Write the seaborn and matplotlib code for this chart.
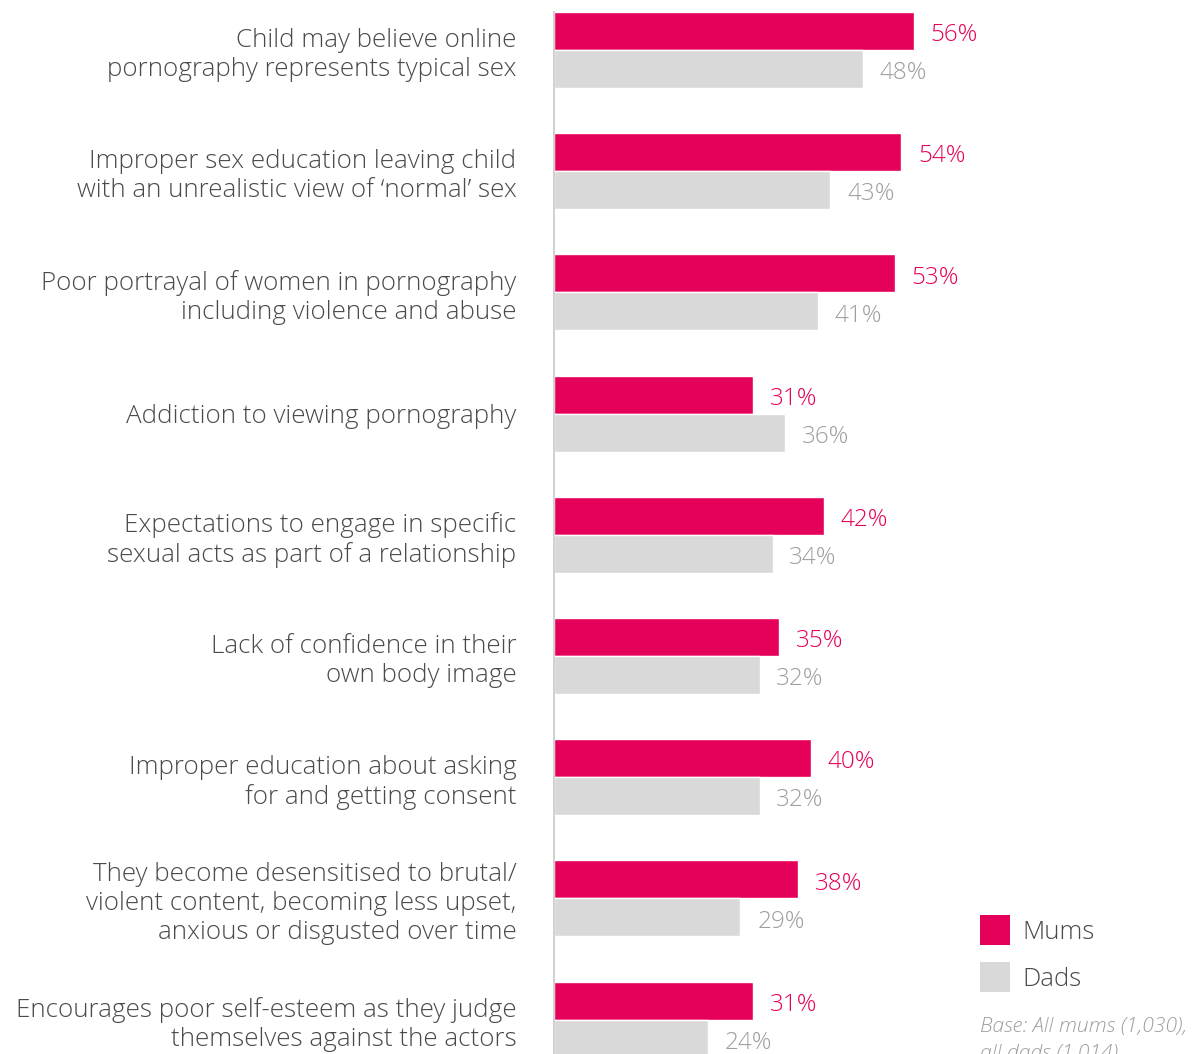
import matplotlib
matplotlib.use("Agg")
import matplotlib.pyplot as plt
from matplotlib.patches import Patch
import pandas as pd
import seaborn as sns

# Concerns parents have about children viewing online pornography
categories = [
    "Child may believe online\npornography represents typical sex",
    "Improper sex education leaving child\nwith an unrealistic view of \u2018normal\u2019 sex",
    "Poor portrayal of women in pornography\nincluding violence and abuse",
    "Addiction to viewing pornography",
    "Expectations to engage in specific\nsexual acts as part of a relationship",
    "Lack of confidence in their\nown body image",
    "Improper education about asking\nfor and getting consent",
    "They become desensitised to brutal/\nviolent content, becoming less upset,\nanxious or disgusted over time",
    "Encourages poor self-esteem as they judge\nthemselves against the actors",
]
mums = [56, 54, 53, 31, 42, 35, 40, 38, 31]
dads = [48, 43, 41, 36, 34, 32, 32, 29, 24]
groups = ["Mums", "Dads"]

PINK = "#E5005A"
GREY = "#D9D9D9"
TEXT = "#4A4A4A"
VALUE_GREY = "#9E9E9E"

df = pd.DataFrame({
    "concern": categories * 2,
    "group": ["Mums"] * len(categories) + ["Dads"] * len(categories),
    "share": mums + dads,
})

sns.set_style("white")
plt.rcParams["font.family"] = ["Open Sans", "DejaVu Sans"]

W, H = 1199, 1054
fig = plt.figure(figsize=(W / 100, H / 100), dpi=100)
ax = fig.add_axes([554 / W, 0, 643 / W, 1042 / H])

sns.barplot(
    data=df, y="concern", x="share", hue="group", hue_order=groups,
    order=categories, orient="h", palette=[PINK, GREY], width=0.627,
    legend=False, ax=ax, saturation=1,
)

ax.set_xlim(0, 100)
ax.set_ylim(8.284, -0.3135)
ax.set_xlabel("")
ax.set_ylabel("")
ax.set_xticks([])
ax.set_yticks(range(len(categories)))
ax.set_yticklabels(categories, fontsize=18.7, color=TEXT, fontweight="light",
                   multialignment="right", linespacing=1.2)
ax.tick_params(axis="y", length=0, pad=27)
for side in ["top", "right", "bottom"]:
    ax.spines[side].set_visible(False)
ax.spines["left"].set_color("#C8C8C8")
ax.spines["left"].set_linewidth(1.2)

for container, color in zip(ax.containers, [PINK, VALUE_GREY]):
    labels = ax.bar_label(container, fmt="{:.0f}%", padding=12, fontsize=17.5,
                          color=color, fontweight="light")
    for t in labels:
        t.xyann = (12, -3)
        t.set_va("center")

handles = [Patch(facecolor=PINK, edgecolor="none"),
           Patch(facecolor=GREY, edgecolor="none")]
fig.legend(handles, groups, loc="upper left",
           bbox_to_anchor=(980 / W, 1 - 915 / H), frameon=False,
           borderpad=0, borderaxespad=0,
           prop={"size": 18.5, "weight": "light"},
           handlelength=1.17, handleheight=1.42, handletextpad=0.47,
           labelspacing=0.66, labelcolor=TEXT)

base_lines = ["Base: All mums (1,030),", "all dads (1,014)"]
for line, y_px in zip(base_lines, [1027, 1054]):
    fig.text(980 / W, 1 - y_px / H, line, ha="left", va="center",
             fontsize=15.2, style="italic", color=VALUE_GREY,
             fontweight="light")

fig.savefig("out.png", dpi=100)
